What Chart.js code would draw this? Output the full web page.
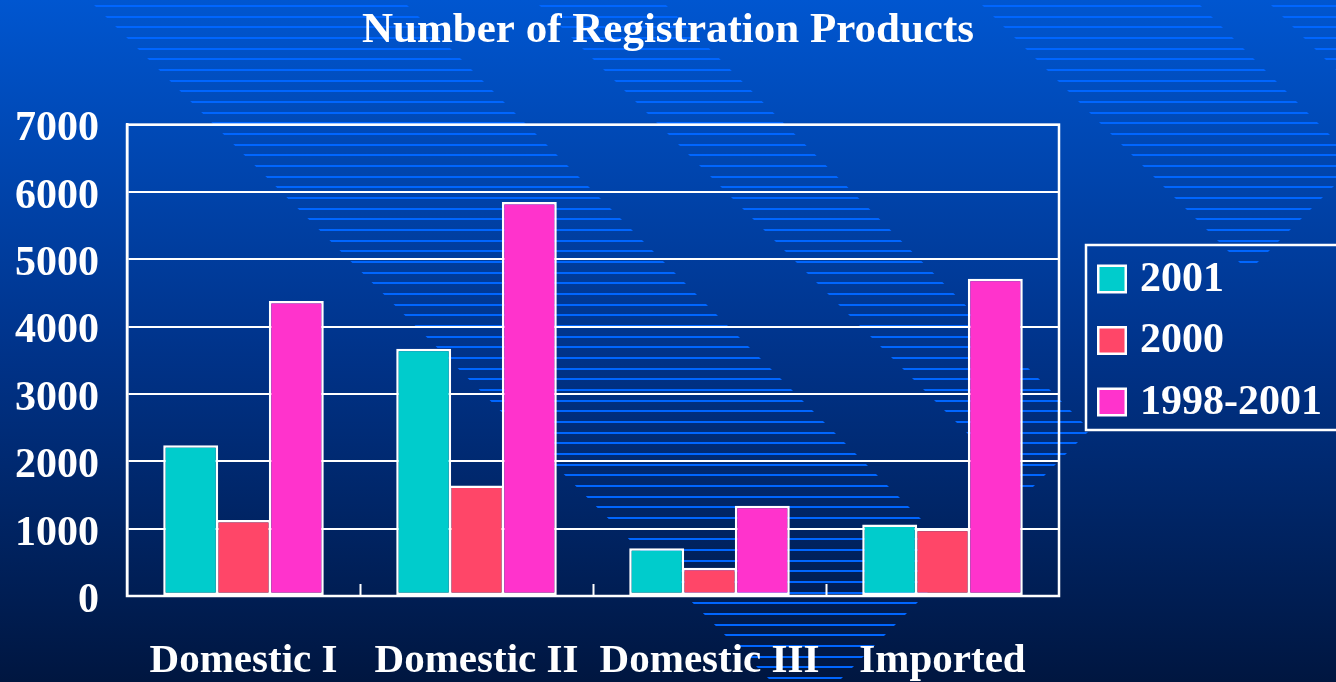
<!DOCTYPE html>
<html>
<head>
<meta charset="utf-8">
<script src="https://cdn.jsdelivr.net/npm/chart.js@4/dist/chart.umd.min.js"></script>
<style>
  html, body { margin: 0; padding: 0; background: #002a70; }
  #wrap { width: 1336px; height: 682px; }
</style>
</head>
<body>
<div id="wrap"><canvas id="c" width="1336" height="682"></canvas></div>
<script>
// ---- data ----
const categories = ['Domestic I', 'Domestic II', 'Domestic III', 'Imported'];
const seriesNames = ['2001', '2000', '1998-2001'];
const values2001 = [2240, 3670, 710, 1060];
const values2000 = [1130, 1640, 420, 1000];
const values1998to2001 = [4380, 5850, 1340, 4710];
const yMin = 0;
const yMax = 7000;
const yStep = 1000;

// ---- style ----
const FONT = '"Liberation Serif", "Times New Roman", serif';
const colors = ['#00cccc', '#ff4668', '#ff33cc'];

const backgroundPlugin = {
  id: 'bgStripes',
  beforeDraw(chart) {
    const { ctx, width, height } = chart;
    ctx.save();
    const g = ctx.createLinearGradient(0, 0, 0, height);
    g.addColorStop(0, 'rgb(0,86,208)');
    g.addColorStop(0.5, 'rgb(0,52,140)');
    g.addColorStop(1, 'rgb(0,22,64)');
    ctx.fillStyle = g;
    ctx.fillRect(0, 0, width, height);
    // decorative diagonal bands of horizontal lines
    const bands = [
      [[89, 0], [402, 0], [961, 559], [805, 715]],
      [[534, 0], [661, 0], [1090, 430], [1027, 493]],
      [[977, 0], [1195, 0], [1357.5, 162.5], [1248.5, 271.5]],
      [[1266, 0], [1520, 0], [1393, 127]]
    ];
    ctx.beginPath();
    bands.forEach(poly => {
      ctx.moveTo(poly[0][0], poly[0][1]);
      for (let i = 1; i < poly.length; i++) ctx.lineTo(poly[i][0], poly[i][1]);
      ctx.closePath();
    });
    ctx.clip();
    ctx.fillStyle = '#0066ff';
    for (let y = 5; y < height; y += 32 / 3) {
      ctx.fillRect(0, Math.round(y), width, 2);
    }
    ctx.restore();
  }
};

const framePlugin = {
  id: 'frame',
  afterDatasetsDraw(chart) {
    const { ctx, chartArea: a } = chart;
    const xs = chart.scales.x;
    ctx.save();
    ctx.strokeStyle = '#ffffff';
    ctx.lineWidth = 2.5;
    ctx.strokeRect(a.left, a.top, a.right - a.left, a.bottom - a.top);
    ctx.lineWidth = 2;
    for (let i = 1; i < categories.length; i++) {
      const x = (xs.getPixelForValue(i - 1) + xs.getPixelForValue(i)) / 2;
      ctx.beginPath();
      ctx.moveTo(Math.round(x) + 0.5, a.bottom);
      ctx.lineTo(Math.round(x) + 0.5, a.bottom - 12);
      ctx.stroke();
    }
    ctx.restore();
  }
};

const legendPlugin = {
  id: 'boxLegend',
  afterDraw(chart) {
    const { ctx } = chart;
    ctx.save();
    ctx.strokeStyle = '#ffffff';
    ctx.lineWidth = 2.5;
    ctx.strokeRect(1086, 245, 280, 185);
    ctx.font = 'bold 42px ' + FONT;
    ctx.textBaseline = 'middle';
    ctx.textAlign = 'left';
    chart.data.datasets.forEach((ds, i) => {
      const cy = 279 + i * 61.5;
      ctx.fillStyle = '#ffffff';
      ctx.fillRect(1097, cy - 14.5, 30, 29);
      ctx.fillStyle = ds.backgroundColor;
      ctx.fillRect(1099.5, cy - 12, 25, 24);
      ctx.fillStyle = '#ffffff';
      ctx.fillText(ds.label, 1140, cy + 1);
    });
    ctx.restore();
  }
};

const seriesValues = [values2001, values2000, values1998to2001];

new Chart(document.getElementById('c'), {
  type: 'bar',
  data: {
    labels: categories,
    datasets: seriesNames.map((name, i) => ({
      label: name,
      data: seriesValues[i],
      backgroundColor: colors[i],
      borderColor: '#ffffff',
      borderWidth: 2.5,
      borderSkipped: false,
      categoryPercentage: 0.68,
      barPercentage: 1.04
    }))
  },
  options: {
    responsive: false,
    devicePixelRatio: 1,
    animation: false,
    layout: { padding: 0 },
    plugins: {
      legend: { display: false },
      tooltip: { enabled: false },
      title: {
        display: true,
        text: 'Number of Registration Products',
        color: '#ffffff',
        font: { family: FONT, size: 43, weight: 'bold', lineHeight: 1.2 },
        padding: { top: 5, bottom: 68 }
      }
    },
    scales: {
      x: {
        grid: { display: false, drawTicks: false },
        border: { display: false },
        afterFit(s) { s.height = 86; },
        ticks: {
          color: '#ffffff',
          font: { family: FONT, size: 41, weight: 'bold', lineHeight: 1.15 },
          padding: 42,
          autoSkip: false,
          maxRotation: 0,
          minRotation: 0
        }
      },
      y: {
        min: yMin,
        max: yMax,
        afterFit(s) { s.width = 127; },
        grid: { color: '#ffffff', lineWidth: 2, drawTicks: false },
        border: { display: true, color: '#ffffff', width: 2.5 },
        ticks: {
          stepSize: yStep,
          color: '#ffffff',
          font: { family: FONT, size: 42, weight: 'bold' },
          padding: 28,
          labelOffset: 5,
          callback: v => String(v)
        }
      },
      spacer: {
        type: 'linear',
        position: 'right',
        display: true,
        afterFit(s) { s.width = 277; },
        grid: { display: false, drawTicks: false },
        border: { display: false },
        ticks: { display: false }
      }
    }
  },
  plugins: [backgroundPlugin, framePlugin, legendPlugin]
});
</script>
</body>
</html>
